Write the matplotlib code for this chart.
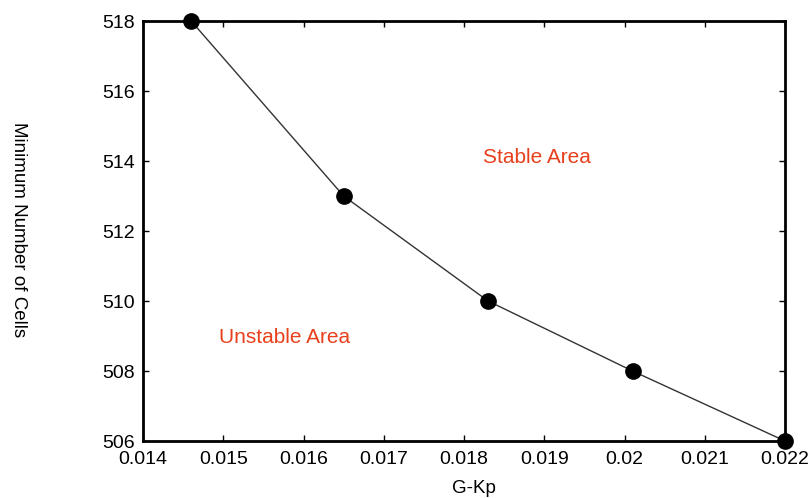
import matplotlib
matplotlib.use("Agg")
import matplotlib.pyplot as plt

plt.rcParams['font.family'] = ['Liberation Sans', 'DejaVu Sans']

gkp = [0.0146, 0.0165, 0.0183, 0.0201, 0.0220]
min_cells = [518, 513, 510, 508, 506]
xticks = [0.014, 0.015, 0.016, 0.017, 0.018, 0.019, 0.02, 0.021, 0.022]
xtick_labels = ['0.014', '0.015', '0.016', '0.017', '0.018', '0.019', '0.02', '0.021', '0.022']
yticks = [506, 508, 510, 512, 514, 516, 518]

fig = plt.figure(figsize=(8.09, 4.98), dpi=100)
ax = fig.add_axes([143/809, 1-441/498, (785-143)/809, (441-21)/498])

ax.plot(gkp, min_cells, color='#333333', lw=1.0, marker='o', ms=11,
        markerfacecolor='black', markeredgecolor='black', clip_on=False, zorder=3)

ax.set_xlim(0.014, 0.022)
ax.set_ylim(506, 518)
ax.set_xticks(xticks)
ax.set_xticklabels(xtick_labels)
ax.set_yticks(yticks)
ax.tick_params(direction='in', length=4, width=1, top=True, right=True,
               labelsize=14)
ax.tick_params(axis='x', pad=7)
ax.tick_params(axis='y', pad=6)
for s in ax.spines.values():
    s.set_linewidth(2)

ax.text(0.01891, 514.1, 'Stable Area', color='#e8401c', fontsize=15,
        ha='center', va='center')
ax.text(0.01576, 508.97, 'Unstable Area', color='#e8401c', fontsize=15,
        ha='center', va='center')

fig.text(474/809, 1-488/498, 'G-Kp', fontsize=13.5, ha='center', va='center')
fig.text(18/809, 1-230/498, 'Minimum Number of Cells', fontsize=13.5,
         rotation=270, ha='center', va='center')

fig.savefig('out.png', dpi=100)
